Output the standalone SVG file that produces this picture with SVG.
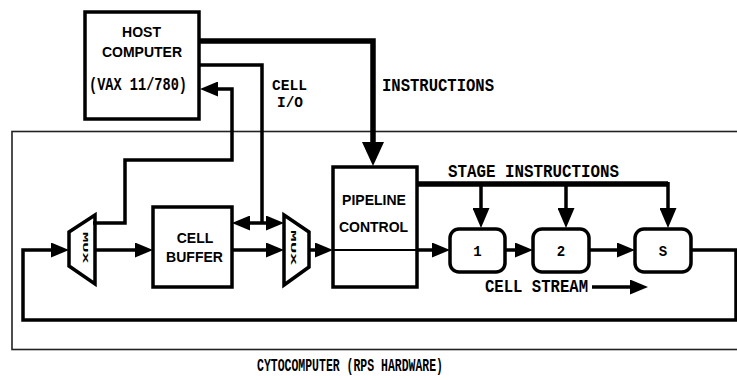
<svg xmlns="http://www.w3.org/2000/svg" width="737" height="380" viewBox="0 0 737 380">
<style>
.box{fill:none;stroke:#000;stroke-width:3.5}
.frame{fill:none;stroke:#222;stroke-width:1.6}
.ln{fill:none;stroke:#000;stroke-width:3.5;stroke-linejoin:miter}
.thk{fill:none;stroke:#000;stroke-width:5.5;stroke-linejoin:miter}
.thin{fill:none;stroke:#000;stroke-width:2}
.sans{font-family:"Liberation Sans",Arial,sans-serif;font-weight:bold;font-size:14px;fill:#000;text-anchor:middle}
.mono{font-family:"Liberation Mono","Courier New",monospace;font-weight:bold;font-size:17.5px;fill:#000}
.sm{font-size:14.5px}
.num{font-family:"Liberation Mono","Courier New",monospace;font-weight:bold;font-size:14px;fill:#000;text-anchor:middle}
.mux{font-family:"Liberation Mono","Courier New",monospace;font-weight:bold;font-size:8px;fill:#000}
.a{marker-end:url(#ah)}
</style>
<defs>
<marker id="ah" viewBox="0 0 18 15" markerWidth="18" markerHeight="15" refX="12" refY="7.5" markerUnits="userSpaceOnUse" orient="auto-start-reverse">
<path d="M0,0 L18,7.5 L0,15 z" fill="#000"/>
</marker>
<marker id="ahBig" viewBox="0 0 24 22" markerWidth="24" markerHeight="22" refX="16" refY="11" markerUnits="userSpaceOnUse" orient="auto">
<path d="M0,0 L24,11 L0,22 z" fill="#000"/>
</marker>
<marker id="ahMid" viewBox="0 0 20 17" markerWidth="20" markerHeight="17" refX="14" refY="8.5" markerUnits="userSpaceOnUse" orient="auto">
<path d="M0,0 L20,8.5 L0,17 z" fill="#000"/>
</marker>
</defs>

<g id="cytocomputer-frame">
<rect class="frame" x="12" y="131.5" width="740" height="218"/>
<text class="mono" x="257" y="371" textLength="186" lengthAdjust="spacingAndGlyphs">CYTOCOMPUTER (RPS HARDWARE)</text>
</g>

<g id="connectors">
<path class="thk" d="M199,41 H373 V158" marker-end="url(#ahBig)"/>
<path class="ln" d="M199,65 H262 V223"/>
<path class="ln" d="M238,223 H278" marker-start="url(#ah)" marker-end="url(#ah)"/>
<path class="ln a" d="M93,223 H125 V160 H232 V89 H206"/>
<path class="ln a" d="M691,250 H736 V320 H23 V250 H63"/>
<path class="ln a" d="M95,250 H147"/>
<path class="ln a" d="M232,250 H278"/>
<path class="ln a" d="M309,250 H327"/>
<path class="thin" d="M333,250 H417"/>
<path class="ln a" d="M417,250 H444"/>
<path class="ln a" d="M505,250 H527"/>
<path class="ln a" d="M589,250 H629"/>
<path class="thk" d="M417,184 H668"/>
<path class="ln" d="M481,184 V222" marker-end="url(#ahMid)"/>
<path class="ln" d="M566,184 V222" marker-end="url(#ahMid)"/>
<path class="ln" d="M668,182 V222" marker-end="url(#ahMid)"/>
<path class="ln a" d="M592,287 H642"/>
</g>

<g id="labels">
<text class="mono sm" x="272" y="90" textLength="35" lengthAdjust="spacingAndGlyphs">CELL</text>
<text class="mono sm" x="277" y="107" textLength="26" lengthAdjust="spacingAndGlyphs">I/O</text>
<text class="mono" x="382" y="91" textLength="112" lengthAdjust="spacingAndGlyphs">INSTRUCTIONS</text>
<text class="mono" x="448" y="177" textLength="171" lengthAdjust="spacingAndGlyphs">STAGE INSTRUCTIONS</text>
<text class="mono" x="485" y="292" textLength="103" lengthAdjust="spacingAndGlyphs">CELL STREAM</text>
</g>

<g id="host-computer">
<rect class="box" x="85" y="12" width="114" height="107"/>
<text class="sans" x="141.5" y="37">HOST</text>
<text class="sans" x="142" y="57">COMPUTER</text>
<text class="mono" x="89" y="90" textLength="98" lengthAdjust="spacingAndGlyphs">(VAX 11/780)</text>
</g>

<g id="mux-in">
<polygon class="box" points="69,232 95,215 95,284 69,266"/>
<text class="mux" transform="translate(83,232) rotate(90)" textLength="31" lengthAdjust="spacingAndGlyphs">MUX</text>
</g>

<g id="cell-buffer">
<rect class="box" x="153" y="207" width="79" height="80"/>
<text class="sans" x="195" y="243">CELL</text>
<text class="sans" x="194.5" y="262">BUFFER</text>
</g>

<g id="mux-out">
<polygon class="box" points="284,215 309,232 309,267 284,285"/>
<text class="mux" transform="translate(291,230) rotate(90)" textLength="35" lengthAdjust="spacingAndGlyphs">MUX</text>
</g>

<g id="pipeline-control">
<rect class="box" x="333" y="167" width="84" height="120"/>
<text class="sans" x="374" y="205">PIPELINE</text>
<text class="sans" x="373.5" y="232">CONTROL</text>
</g>

<g id="stage-1">
<rect class="box" x="450" y="229" width="55" height="43" rx="9"/>
<text class="num" x="477.5" y="256">1</text>
</g>
<g id="stage-2">
<rect class="box" x="533" y="229" width="56" height="43" rx="9"/>
<text class="num" x="561" y="256">2</text>
</g>
<g id="stage-s">
<rect class="box" x="635" y="229" width="56" height="43" rx="9"/>
<text class="num" x="663" y="256">S</text>
</g>
</svg>
